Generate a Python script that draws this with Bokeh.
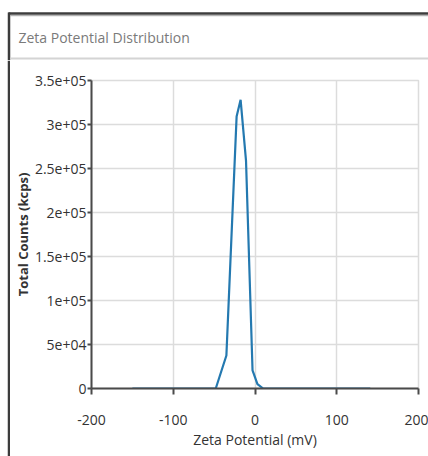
from bokeh.plotting import figure
from bokeh.layouts import row, column
from bokeh.models import FixedTicker, Range1d
from bokeh.core.properties import value
from bokeh.embed import file_html
from bokeh.resources import INLINE

# Zeta potential distribution (mV vs total counts, kcps)
zeta_mv = [-150, -100, -60, -48, -35, -22.5, -17.6, -11, -3, 3, 10, 50, 100, 141]
counts = [0, 0, 0, 0, 37500, 309000, 328000, 259000, 20500, 5000, 0, 0, 0, 0]

x_ticks = [-200, -100, 0, 100, 200]
x_tick_labels = ["-200", "-100", "0", "100", "200"]
y_ticks = [0, 50000, 100000, 150000, 200000, 250000, 300000, 350000]
y_tick_labels = ["0", "5e+04", "1e+05", "1.5e+05", "2e+05", "2.5e+05", "3e+05", "3.5e+05"]

panel_title = "Zeta Potential Distribution"

FONT = "Open Sans"
LINE_BLUE = "#2479b0"
BORDER = "#3c3c3c"


def blank(width, height, x_range, y_range):
    """A bare canvas whose frame fills the whole figure (pixel coordinates, y down)."""
    f = figure(width=width, height=height, output_backend="svg", toolbar_location=None,
               x_range=x_range, y_range=y_range, x_axis_type=None, y_axis_type=None,
               min_border=0, min_border_left=0, min_border_right=0,
               min_border_top=0, min_border_bottom=0)
    f.grid.visible = False
    f.outline_line_color = None
    f.background_fill_color = "white"
    f.border_fill_color = "white"
    return f


# header strip: panel top edge, left edge, title and separator
header = blank(428, 60, Range1d(0, 428), Range1d(60, 0))
header.line([8, 428], [13, 13], line_color=BORDER, line_width=2.5)
header.line([10, 428], [15.2, 15.2], line_color="#a0a0a0", line_width=1)
header.line([8.5, 8.5], [12, 60], line_color=BORDER, line_width=2.5)
header.line([10, 428], [58, 58], line_color="#d4d4d4", line_width=2)
header.text(x=[18], y=[37], text=[panel_title], text_font=value(FONT),
            text_font_size="14px", text_color="#7a7a7a", text_baseline="middle")

# left edge of the panel beside the chart
strip = blank(10, 396, Range1d(0, 10), Range1d(396, 0))
strip.line([8.5, 8.5], [0, 396], line_color=BORDER, line_width=2.5)

# the distribution chart
p = figure(
    width=418, height=396,
    output_backend="svg", toolbar_location=None,
    x_range=Range1d(-200, 200), y_range=Range1d(0, 350000),
    min_border_left=80, min_border_right=10,
    min_border_top=20, min_border_bottom=68,
    background_fill_color="white", border_fill_color="white",
)

p.line(zeta_mv, counts, line_color=LINE_BLUE, line_width=2.2)

p.xgrid.grid_line_color = "#dcdcdc"
p.ygrid.grid_line_color = "#dcdcdc"
p.xgrid.grid_line_width = 1.5
p.ygrid.grid_line_width = 1.5
p.outline_line_color = "#dcdcdc"
p.outline_line_width = 1.5

p.xaxis.ticker = FixedTicker(ticks=x_ticks)
p.yaxis.ticker = FixedTicker(ticks=y_ticks)
p.xaxis.major_label_overrides = {t: s for t, s in zip(x_ticks, x_tick_labels)}
p.yaxis.major_label_overrides = {t: s for t, s in zip(y_ticks, y_tick_labels)}
for ax in (p.xaxis[0], p.yaxis[0]):
    ax.axis_line_color = "#4a4a4a"
    ax.axis_line_width = 2
    ax.major_tick_line_color = "#4a4a4a"
    ax.major_tick_line_width = 2
    ax.major_tick_out = 6
    ax.major_tick_in = 0
    ax.minor_tick_line_color = None
    ax.major_label_text_font = FONT
    ax.major_label_text_font_size = "14px"
    ax.major_label_text_color = "#333333"
    ax.axis_label_text_font = FONT
    ax.axis_label_text_font_size = "14px"
    ax.axis_label_text_color = "#333333"
    ax.axis_label_text_font_style = "normal"

p.xaxis.axis_label = "Zeta Potential (mV)"
p.yaxis.axis_label = "Total Counts (kcps)"
p.yaxis.axis_label_text_font_size = "13px"
p.yaxis.axis_label_text_font_style = "bold"
p.yaxis.major_tick_out = 4
p.yaxis.major_label_standoff = 1
p.yaxis.axis_label_standoff = 0
p.xaxis.major_label_standoff = 20
p.xaxis.axis_label_standoff = 2

layout = column(header, row(column(strip), p, spacing=0), spacing=0)

open("out.html", "w").write(file_html(layout, INLINE))
